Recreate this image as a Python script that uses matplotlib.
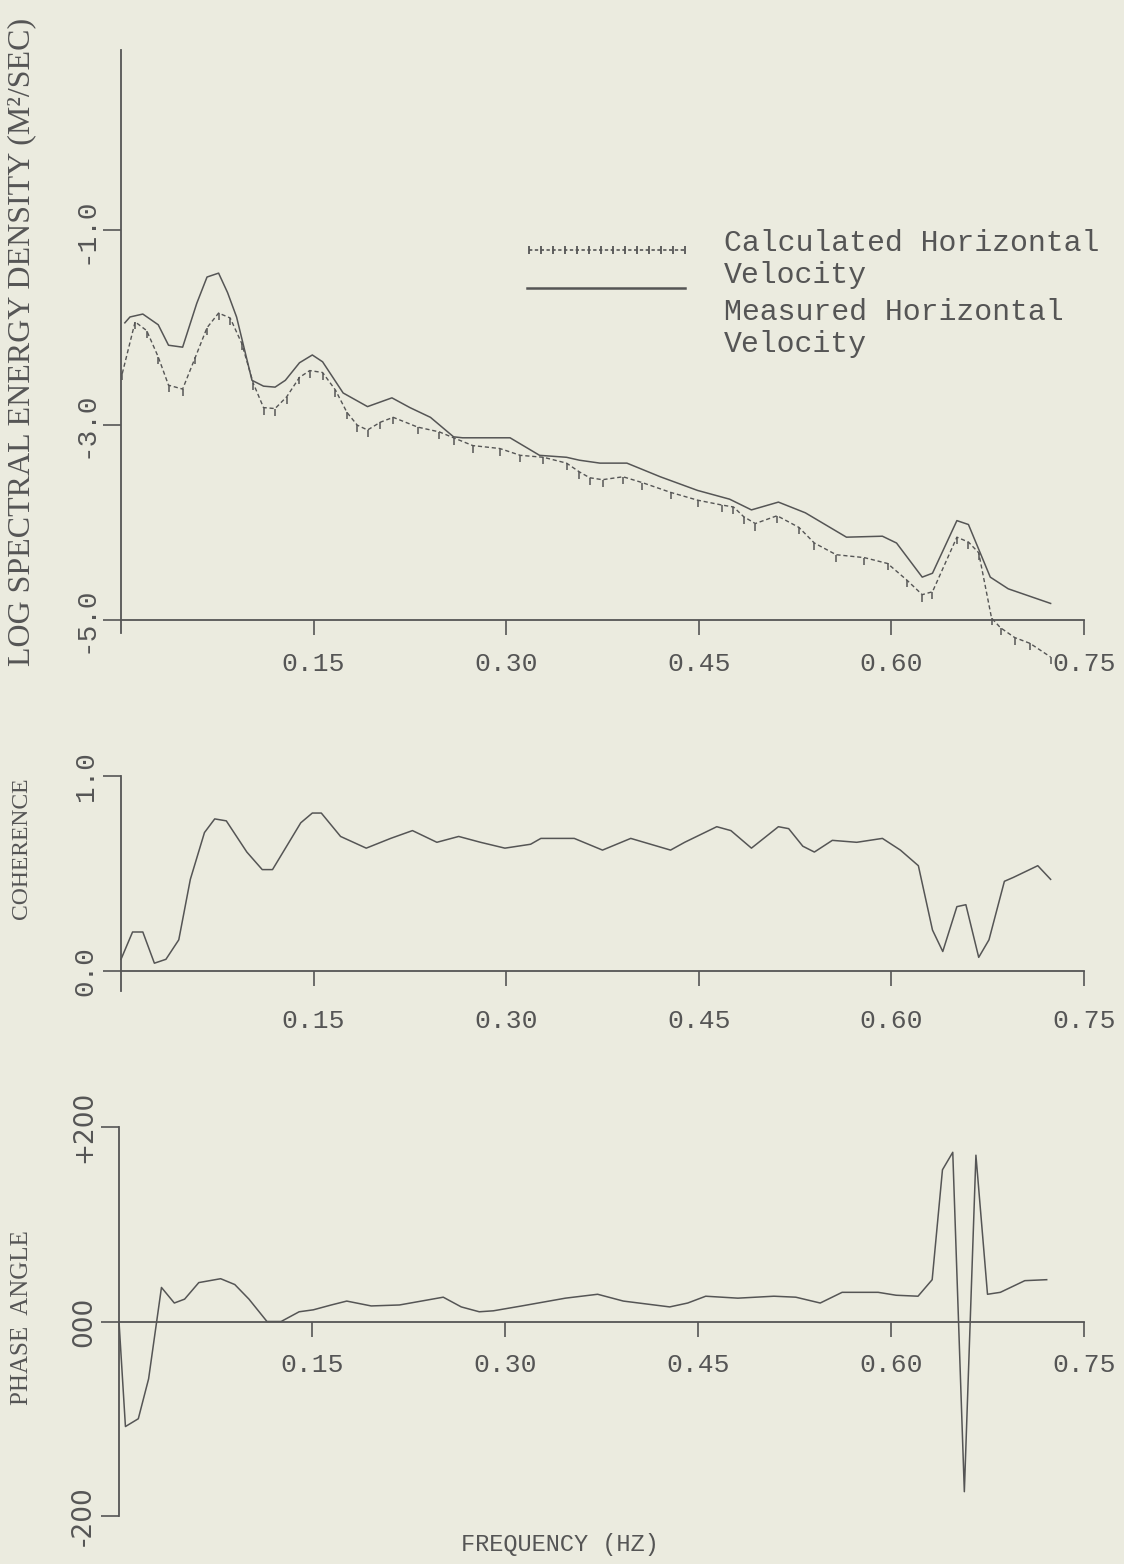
import numpy as np
import matplotlib
matplotlib.use("Agg")
import matplotlib.pyplot as plt
from matplotlib.lines import Line2D

# ---------------- data ----------------
freq_meas = [0.003, 0.007, 0.017, 0.029, 0.037, 0.048, 0.059, 0.067, 0.076, 0.083, 0.090,
             0.102, 0.111, 0.120, 0.128, 0.139, 0.149, 0.157, 0.173, 0.192, 0.211, 0.225,
             0.241, 0.259, 0.266, 0.303, 0.326, 0.347, 0.357, 0.373, 0.394, 0.420, 0.449,
             0.474, 0.491, 0.512, 0.533, 0.565, 0.593, 0.604, 0.624, 0.632, 0.651, 0.660,
             0.677, 0.691, 0.724]
spec_meas = [-1.95, -1.89, -1.86, -1.97, -2.18, -2.20, -1.75, -1.48, -1.44, -1.64, -1.89,
             -2.54, -2.60, -2.61, -2.54, -2.36, -2.28, -2.35, -2.67, -2.81, -2.72, -2.82,
             -2.92, -3.12, -3.13, -3.13, -3.31, -3.33, -3.36, -3.39, -3.39, -3.53, -3.67,
             -3.76, -3.87, -3.79, -3.90, -4.15, -4.14, -4.21, -4.56, -4.52, -3.98, -4.02,
             -4.56, -4.68, -4.83]

freq_calc = [0.001, 0.011, 0.020, 0.029, 0.037, 0.048, 0.058, 0.067, 0.076, 0.085, 0.094,
             0.103, 0.111, 0.120, 0.129, 0.139, 0.147, 0.157, 0.167, 0.176, 0.184, 0.192,
             0.202, 0.212, 0.231, 0.248, 0.259, 0.274, 0.295, 0.311, 0.329, 0.347, 0.357,
             0.365, 0.375, 0.391, 0.406, 0.428, 0.449, 0.468, 0.477, 0.485, 0.494, 0.511,
             0.528, 0.540, 0.557, 0.579, 0.597, 0.612, 0.624, 0.632, 0.651, 0.660, 0.668,
             0.678, 0.685, 0.696, 0.708, 0.724]
spec_calc = [-2.47, -1.94, -2.03, -2.30, -2.59, -2.63, -2.30, -2.00, -1.85, -1.90, -2.16,
             -2.57, -2.82, -2.83, -2.71, -2.51, -2.44, -2.46, -2.64, -2.87, -3.00, -3.05,
             -2.97, -2.92, -3.02, -3.07, -3.13, -3.21, -3.24, -3.31, -3.33, -3.39, -3.48,
             -3.54, -3.56, -3.53, -3.59, -3.69, -3.77, -3.82, -3.84, -3.94, -4.01, -3.93,
             -4.05, -4.21, -4.33, -4.36, -4.42, -4.59, -4.74, -4.71, -4.15, -4.20, -4.31,
             -4.98, -5.08, -5.18, -5.24, -5.38]

freq_coh = [0.000, 0.009, 0.017, 0.026, 0.035, 0.045, 0.054, 0.065, 0.073, 0.082, 0.098,
            0.110, 0.118, 0.140, 0.149, 0.156, 0.171, 0.191, 0.210, 0.227, 0.246, 0.263,
            0.280, 0.299, 0.319, 0.327, 0.353, 0.375, 0.397, 0.428, 0.439, 0.464, 0.475,
            0.491, 0.512, 0.520, 0.531, 0.540, 0.554, 0.573, 0.593, 0.607, 0.621, 0.632,
            0.640, 0.651, 0.658, 0.668, 0.676, 0.688, 0.695, 0.714, 0.724]
coherence = [0.06, 0.20, 0.20, 0.04, 0.06, 0.16, 0.47, 0.71, 0.78, 0.77, 0.61,
             0.52, 0.52, 0.76, 0.81, 0.81, 0.69, 0.63, 0.68, 0.72, 0.66, 0.69,
             0.66, 0.63, 0.65, 0.68, 0.68, 0.62, 0.68, 0.62, 0.66, 0.74, 0.72,
             0.63, 0.74, 0.73, 0.64, 0.61, 0.67, 0.66, 0.68, 0.62, 0.54, 0.21,
             0.10, 0.33, 0.34, 0.07, 0.16, 0.46, 0.48, 0.54, 0.47]

freq_ph = [0.000, 0.005, 0.015, 0.023, 0.033, 0.043, 0.051, 0.062, 0.079, 0.090, 0.101,
           0.115, 0.126, 0.140, 0.151, 0.165, 0.177, 0.196, 0.218, 0.235, 0.252, 0.266,
           0.280, 0.291, 0.313, 0.347, 0.372, 0.392, 0.428, 0.442, 0.456, 0.481, 0.509,
           0.526, 0.545, 0.562, 0.590, 0.604, 0.621, 0.632, 0.640, 0.648, 0.657, 0.666,
           0.675, 0.685, 0.704, 0.721]
phase = [0, -108, -100, -59, 35, 19, 23, 40, 44, 38, 23,
         0, 0, 10, 12, 17, 21, 16, 17, 21, 25, 15,
         10, 11, 16, 24, 28, 21, 15, 19, 26, 24, 26,
         25, 19, 30, 30, 27, 26, 43, 156, 174, -175, 171,
         28, 30, 42, 43]

x_ticks = [0.15, 0.30, 0.45, 0.60, 0.75]
x_ticklabels = ["0.15", "0.30", "0.45", "0.60", "0.75"]
spec_ticks = [-1.0, -3.0, -5.0]
spec_ticklabels = ["-1.0", "-3.0", "-5.0"]
coh_ticks = [0.0, 1.0]
coh_ticklabels = ["0.0", "1.0"]
ph_ticks = [-200, 0, 200]
ph_ticklabels = ["-200", "000", "+200"]

legend_labels = [["Calculated Horizontal", "Velocity"], ["Measured Horizontal", "Velocity"]]

# ---------------- style ----------------
W, H = 1124, 1564
bg = "#ebebdf"
ink = "#555555"
fig = plt.figure(figsize=(W / 100, H / 100), dpi=100)
fig.patch.set_facecolor(bg)

MONO = ["Liberation Mono", "DejaVu Sans Mono"]
SERIF = ["Liberation Serif", "DejaVu Serif"]


def px_axes(left, right, top, bottom):
    return fig.add_axes([left / W, 1 - bottom / H, (right - left) / W, (bottom - top) / H])


def fx(px):
    return px / W


def fy(py):
    return 1 - py / H


def style_axes(ax, ylim, yticks, yticklabels, xsize, yfont, ysize, xpad, ext, zero_axis=False):
    ax.set_facecolor("none")
    ax.set_xlim(0, 0.75)
    ax.set_ylim(*ylim)
    if zero_axis:
        ax.spines["bottom"].set_position(("data", 0))
    for s in ("top", "right"):
        ax.spines[s].set_visible(False)
    for s in ("left", "bottom"):
        ax.spines[s].set_color(ink)
        ax.spines[s].set_linewidth(1.3)
    ax.set_xticks(x_ticks)
    ax.set_xticklabels(x_ticklabels, fontfamily=MONO, fontsize=xsize, color=ink)
    ax.set_yticks(yticks)
    ax.set_yticklabels(yticklabels, fontfamily=yfont, fontsize=ysize, color=ink,
                       rotation=90, va="center")
    ax.tick_params(axis="x", direction="out", length=11, width=1.2, color=ink, pad=xpad)
    ax.tick_params(axis="y", direction="out", length=13, width=1.2, color=ink, pad=3)
    if ext:
        y0, y1 = ax.get_ylim()
        ax.plot([0, 0], [y0 - ext * (y1 - y0), y0], color=ink, lw=1.3, clip_on=False)


# ---- top panel: spectra ----
ax1 = px_axes(121, 1084, 50, 620)
style_axes(ax1, (-5.0, 0.85), spec_ticks, spec_ticklabels, 19, MONO, 20, 12, 0.022)
ax1.plot(freq_meas, spec_meas, color=ink, lw=1.1, clip_on=False)
ax1.plot(freq_calc, spec_calc, color=ink, lw=1.0, ls=(0, (3, 2)), marker=3, ms=5,
         mew=1.1, clip_on=False)

# manual legend (handles above each two-line text block)
hx = np.linspace(fx(529), fx(685), 14)
fig.add_artist(Line2D(hx, [fy(250)] * len(hx), transform=fig.transFigure, color=ink,
                      lw=1.2, ls=(0, (2, 1.5)), marker="|", ms=6, mew=1.3))
fig.add_artist(Line2D([fx(527), fx(685)], [fy(288)] * 2, transform=fig.transFigure,
                      color=ink, lw=1.8))
for (l1, l2), y1 in zip(legend_labels, (243, 312)):
    fig.text(fx(724), fy(y1), l1, ha="left", va="center", fontfamily=MONO, fontsize=21.5,
             color=ink)
    fig.text(fx(724), fy(y1 + 32), l2, ha="left", va="center", fontfamily=MONO,
             fontsize=21.5, color=ink)

# ---- middle panel: coherence ----
ax2 = px_axes(121, 1084, 776, 971)
style_axes(ax2, (0.0, 1.0), coh_ticks, coh_ticklabels, 19, MONO, 20, 16, 0.10)
ax2.plot(freq_coh, coherence, color=ink, lw=1.1, clip_on=False)

# ---- bottom panel: phase ----
ax3 = px_axes(119, 1084, 1127, 1516)
style_axes(ax3, (-200, 200), ph_ticks, ph_ticklabels, 19, ["DejaVu Sans"], 19, 12, 0,
           zero_axis=True)
ax3.plot(freq_ph, phase, color=ink, lw=1.1, clip_on=False)

# ---- axis titles ----
fig.text(fx(22), fy(342), "LOG SPECTRAL ENERGY DENSITY (M\u00b2/SEC)", rotation=90,
         ha="center", va="center", fontfamily=SERIF, fontsize=23, color=ink)
fig.text(fx(22), fy(848), "COHERENCE", rotation=90,
         ha="center", va="center", fontfamily=SERIF, fontsize=17, color=ink)
fig.text(fx(22), fy(1318), "PHASE  ANGLE", rotation=90,
         ha="center", va="center", fontfamily=SERIF, fontsize=18, color=ink)
fig.text(fx(560), fy(1545), "FREQUENCY (HZ)",
         ha="center", va="center", fontfamily=MONO, fontsize=17, color=ink)

fig.savefig("out.png", dpi=100, facecolor=bg)
